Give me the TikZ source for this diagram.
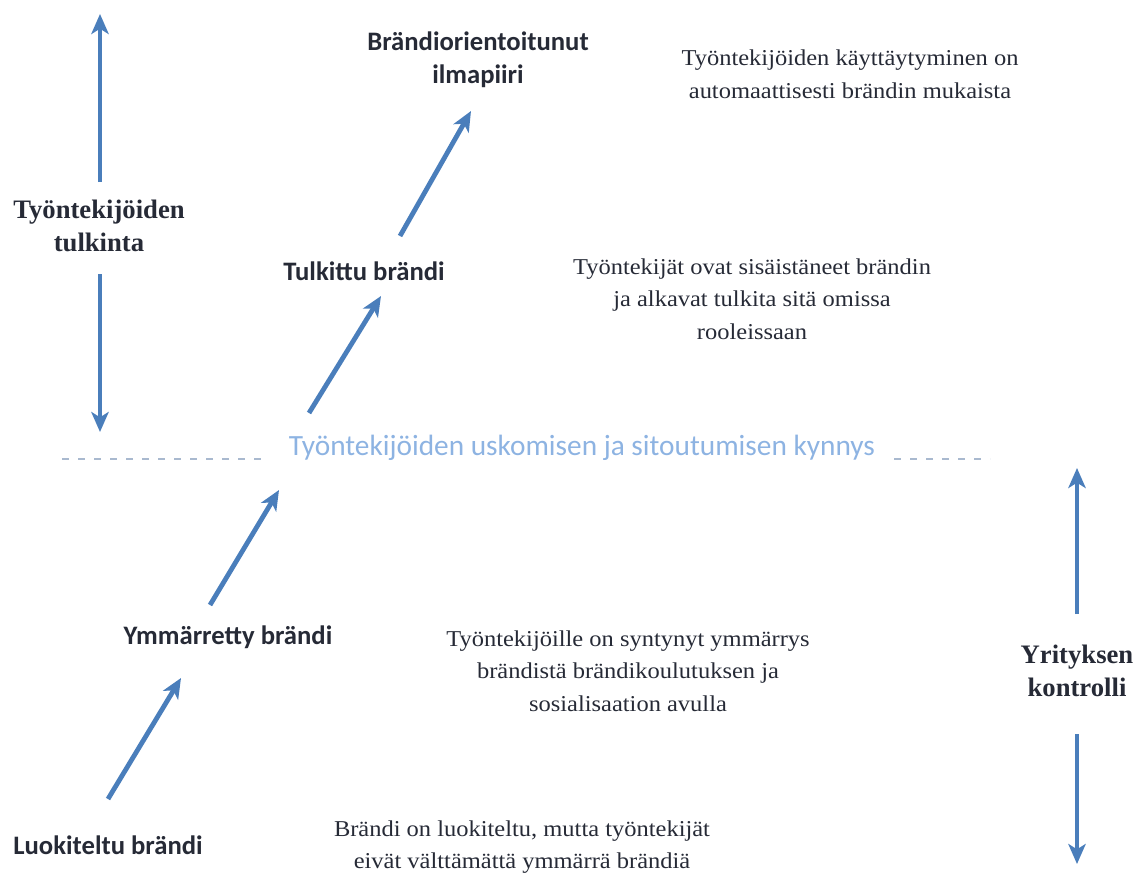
\documentclass[tikz,border=0pt]{standalone}
\usepackage{fontspec}
\setmainfont{Liberation Serif}
\newfontfamily\labelsans{Carlito}
\newfontfamily\notefont[FakeStretch=1.08]{Liberation Serif}
\usetikzlibrary{arrows.meta}
\definecolor{arrowblue}{HTML}{4A7EBB}
\definecolor{threshblue}{HTML}{8DB3E2}
\definecolor{dashgrey}{HTML}{A9B9CF}
\definecolor{textdark}{HTML}{262A36}
\tikzset{
  flow/.style={draw=arrowblue, line width=3.6pt, -{Stealth[length=15pt,width=13pt,inset=4pt]}},
  stage/.style={font=\labelsans\bfseries\fontsize{20}{25}\selectfont, text=textdark, align=center, inner sep=0pt},
  axislabel/.style={font=\bfseries\fontsize{20}{25}\selectfont, text=textdark, align=center, inner sep=0pt},
  note/.style={font=\notefont\fontsize{17}{24.5}\selectfont, text=textdark, align=center, inner sep=0pt},
  threshold/.style={draw=dashgrey, line width=1.5pt, dash pattern=on 5pt off 7pt}
}
\begin{document}
\begin{tikzpicture}[x=0.75pt,y=-0.75pt]
\useasboundingbox (0,0) rectangle (1135,875);

% left axis: employees' interpretation
\node[axislabel] (tulk) at (99,226) {Työntekijöiden\\tulkinta};
\coordinate (tulkTop) at (100,14);
\coordinate (tulkBot) at (100,432);
\draw[flow] (100,182) -- (tulkTop);
\draw[flow] (100,274) -- (tulkBot);

% right axis: company control
\node[axislabel] (kontr) at (1077,671) {Yrityksen\\kontrolli};
\coordinate (kontrTop) at (1077,468);
\coordinate (kontrBot) at (1077,864);
\draw[flow] (1077,614) -- (kontrTop);
\draw[flow] (1077,734) -- (kontrBot);

% stages
\node[stage] (luok) at (108,845) {Luokiteltu brändi};
\node[stage] (ymm) at (228,637) {Ymmärretty brändi};
\node[stage] (tulkb) at (364,271) {Tulkittu brändi};
\node[stage] (ilma) at (478,60) {Brändiorientoitunut\\ilmapiiri};

% step arrows between stages
\coordinate (a1s) at (108,799); \coordinate (a1e) at (181,678);
\coordinate (a2s) at (210,605); \coordinate (a2e) at (279,490);
\coordinate (a3s) at (309,413); \coordinate (a3e) at (381,296);
\coordinate (a4s) at (400,236); \coordinate (a4e) at (471,111);
\draw[flow] (a1s) -- (a1e);
\draw[flow] (a2s) -- (a2e);
\draw[flow] (a3s) -- (a3e);
\draw[flow] (a4s) -- (a4e);

% threshold of belief and commitment
\node[font=\labelsans\fontsize{22}{26}\selectfont, text=threshblue, inner sep=0pt] (kynnys) at (582,448) {Työntekijöiden uskomisen ja sitoutumisen kynnys};
\coordinate (dl1) at (62,459); \coordinate (dl2) at (262,459);
\coordinate (dr1) at (894,459); \coordinate (dr2) at (990,459);
\draw[threshold] (dl1) -- (dl2);
\draw[threshold] (dr1) -- (dr2);

% descriptions
\node[note] (n4) at (850,74) {Työntekijöiden käyttäytyminen on\\automaattisesti brändin mukaista};
\node[note] (n3) at (752,299) {Työntekijät ovat sisäistäneet brändin\\ja alkavat tulkita sitä omissa\\rooleissaan};
\node[note] (n2) at (628,671) {Työntekijöille on syntynyt ymmärrys\\brändistä brändikoulutuksen ja\\sosialisaation avulla};
\node[note] (n1) at (522,847) {Brändi on luokiteltu, mutta työntekijät\\eivät välttämättä ymmärrä brändiä};
\end{tikzpicture}
\end{document}
